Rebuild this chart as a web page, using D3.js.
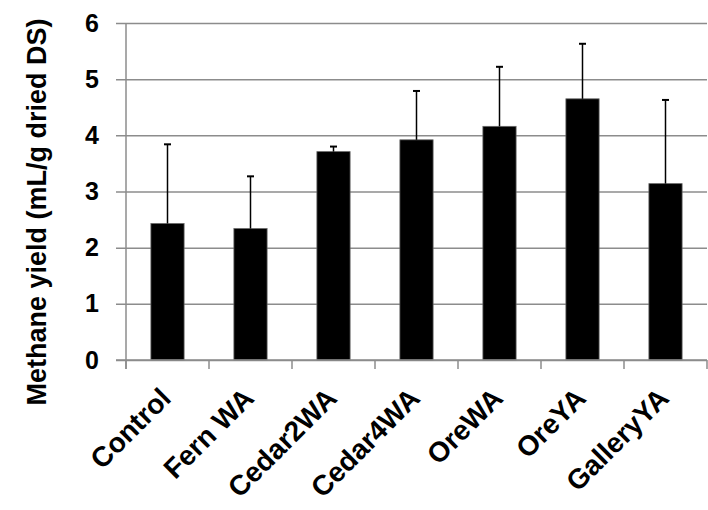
<!DOCTYPE html>
<html>
<head>
<meta charset="utf-8">
<script src="https://cdn.jsdelivr.net/npm/d3@7"></script>
<style>
  body { margin: 0; background: #fff; }
  svg text { font-family: "Liberation Sans", Arial, sans-serif; font-weight: bold; }
</style>
</head>
<body>
<div id="chart"></div>
<script>
const categories = ['Control', 'Fern WA', 'Cedar2WA', 'Cedar4WA', 'OreWA', 'OreYA', 'GalleryYA'];
const yieldMeans = [2.43, 2.34, 3.71, 3.92, 4.16, 4.65, 3.14];
const yieldErrors = [1.41, 0.93, 0.09, 0.87, 1.06, 0.98, 1.49];
const yTicks = [0, 1, 2, 3, 4, 5, 6];
const yTitle = 'Methane  yield (mL/g dried DS)';

const width = 708;
const height = 510;
const margin = { top: 23, right: 1, bottom: 150, left: 126 };

const svg = d3.select('#chart').append('svg')
  .attr('width', width)
  .attr('height', height);

const x = d3.scaleBand()
  .domain(categories)
  .range([margin.left, width - margin.right])
  .padding(0);

const y = d3.scaleLinear()
  .domain([0, 6])
  .range([height - margin.bottom, margin.top]);

// gridlines + y ticks
const yAxis = svg.append('g')
  .attr('transform', `translate(${margin.left},0)`)
  .call(d3.axisLeft(y).tickValues(yTicks).tickFormat(d3.format('d'))
    .tickSizeInner(-(width - margin.right - margin.left)).tickSizeOuter(0).tickPadding(27))
  .call(g => g.select('.domain').remove());

yAxis.selectAll('.tick line')
  .attr('x1', -10)
  .attr('stroke', '#8c8c8c')
  .attr('stroke-width', 1.5);

yAxis.selectAll('.tick text')
  .attr('font-size', 25)
  .attr('fill', '#000');

// y axis line
svg.append('line')
  .attr('x1', margin.left).attr('x2', margin.left)
  .attr('y1', y(6)).attr('y2', y(0) + 9)
  .attr('stroke', '#8c8c8c')
  .attr('stroke-width', 1.5);

// x axis tick marks at band edges
const xEdges = categories.map(c => x(c)).concat([x(categories[categories.length - 1]) + x.bandwidth()]);
svg.append('g')
  .selectAll('line')
  .data(xEdges)
  .enter().append('line')
  .attr('x1', d => d).attr('x2', d => d)
  .attr('y1', y(0)).attr('y2', y(0) + 9)
  .attr('stroke', '#8c8c8c')
  .attr('stroke-width', 1.5);

// bars
const barW = x.bandwidth() * 0.4;
svg.append('g')
  .selectAll('rect')
  .data(yieldMeans)
  .enter().append('rect')
  .attr('x', (d, i) => x(categories[i]) + (x.bandwidth() - barW) / 2)
  .attr('y', d => y(d))
  .attr('width', barW)
  .attr('height', d => y(0) - y(d))
  .attr('fill', '#000')
  .attr('stroke', '#666')
  .attr('stroke-width', 0.8);

// x baseline on top of bars
svg.append('line')
  .attr('x1', margin.left - 10).attr('x2', width - margin.right)
  .attr('y1', y(0)).attr('y2', y(0))
  .attr('stroke', '#8c8c8c')
  .attr('stroke-width', 1.5);

// error bars (upper only)
const errG = svg.append('g')
  .selectAll('g')
  .data(yieldMeans)
  .enter().append('g')
  .attr('transform', (d, i) => `translate(${x(categories[i]) + x.bandwidth() / 2},0)`);

errG.append('line')
  .attr('y1', d => y(d))
  .attr('y2', (d, i) => y(d + yieldErrors[i]))
  .attr('stroke', '#000')
  .attr('stroke-width', 1.5);

errG.append('line')
  .attr('x1', -3.5).attr('x2', 3.5)
  .attr('y1', (d, i) => y(d + yieldErrors[i]))
  .attr('y2', (d, i) => y(d + yieldErrors[i]))
  .attr('stroke', '#000')
  .attr('stroke-width', 2);

// rotated category labels
svg.append('g')
  .selectAll('text')
  .data(categories)
  .enter().append('text')
  .attr('transform', d => `translate(${x(d) + x.bandwidth() / 2 + 5},${y(0) + 40}) rotate(-45)`)
  .attr('text-anchor', 'end')
  .attr('font-size', 28)
  .attr('fill', '#000')
  .text(d => d);

// y title
svg.append('text')
  .attr('transform', 'translate(46,212) rotate(-90)')
  .attr('text-anchor', 'middle')
  .attr('font-size', 27)
  .attr('fill', '#000')
  .text(yTitle);
</script>
</body>
</html>
